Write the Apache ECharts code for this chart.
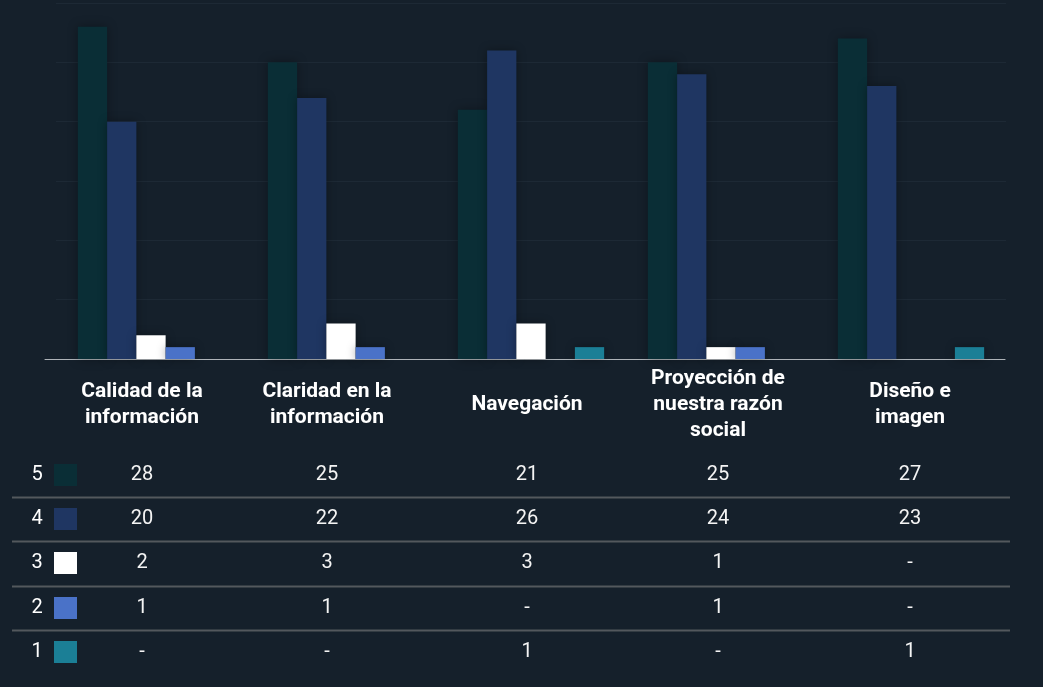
<!DOCTYPE html>
<html>
<head>
<meta charset="utf-8">
<style>
  html, body { margin: 0; padding: 0; background: #15202b; }
  #chart { width: 1043px; height: 687px; }
</style>
<script src="https://cdn.jsdelivr.net/npm/echarts@6/dist/echarts.min.js"></script>
</head>
<body>
<div id="chart"></div>
<script>
  // categorias (con salto de linea como en el original)
  var categories = [
    'Calidad de la\ninformación',
    'Claridad en la\ninformación',
    'Navegación',
    'Proyección de\nnuestra razón\nsocial',
    'Diseño e\nimagen'
  ];
  var seriesNames = ['5', '4', '3', '2', '1'];
  var s5 = [28, 25, 21, 25, 27];
  var s4 = [20, 22, 26, 24, 23];
  var s3 = [2, 3, 3, 1, null];
  var s2 = [1, 1, null, 1, null];
  var s1 = [null, null, 1, null, 1];
  var colors = ['#0a2e36', '#1f3662', '#ffffff', '#4a72c8', '#1b7f96'];

  var allData = [s5, s4, s3, s2, s1];
  // pequeño ajuste horizontal de las columnas de la tabla
  var colShift = [1, -6, 2, 1, 1];

  var myChart = echarts.init(document.getElementById('chart'));

  var series = allData.map(function (d, i) {
    return {
      name: seriesNames[i],
      type: 'bar',
      xAxisIndex: 0,
      yAxisIndex: 0,
      data: d,
      barGap: '0%',
      barCategoryGap: '23%',
      itemStyle: {
        color: colors[i],
        shadowBlur: 10,
        shadowColor: 'rgba(0,0,0,0.35)'
      },
      silent: true
    };
  });

  var options = {
    backgroundColor: '#15202b',
    animation: false,
    textStyle: { fontFamily: 'Roboto' },
    grid: [
      { left: 56, right: 37, top: 3, bottom: 328 },
      { left: 45, right: 38, top: 358, height: 1 }
    ],
    xAxis: [{
      type: 'category',
      gridIndex: 0,
      data: categories,
      axisLine: { show: false },
      axisTick: { show: false },
      axisLabel: { show: false }
    }, {
      type: 'category',
      gridIndex: 1,
      data: categories,
      axisLine: { lineStyle: { color: '#aeb3b8', width: 1 } },
      axisTick: { show: false },
      axisLabel: {
        interval: 0,
        color: '#ffffff',
        fontSize: 21,
        fontWeight: 'bold',
        fontFamily: 'Roboto',
        lineHeight: 26,
        margin: 46,
        verticalAlign: 'middle',
        align: 'center',
        formatter: function (value, index) {
          // desplazar cada etiqueta igual que su columna de la tabla
          var s = colShift[index];
          var pad = s < 0 ? [0, -2 * s, 0, 0] : [0, 0, 0, 2 * s];
          return value.split('\n').map(function (t) {
            return '{l' + index + '|' + t + '}';
          }).join('\n');
        },
        rich: (function () {
          var r = {};
          for (var i = 0; i < colShift.length; i++) {
            var s = colShift[i];
            r['l' + i] = {
              color: '#ffffff', fontSize: 21, fontWeight: 'bold', fontFamily: 'Roboto',
              lineHeight: 26,
              padding: s < 0 ? [0, -2 * s, 0, 0] : [0, 0, 0, 2 * s]
            };
          }
          return r;
        })()
      }
    }],
    yAxis: [{
      type: 'value',
      gridIndex: 0,
      min: 0,
      max: 30,
      interval: 5,
      axisLabel: { show: false },
      axisLine: { show: false },
      axisTick: { show: false },
      splitLine: { lineStyle: { color: '#1d2935', width: 1 } }
    }, {
      type: 'value',
      gridIndex: 1,
      show: false
    }],
    series: series
  };
  myChart.setOption(options);

  // tabla de datos debajo del grafico
  var rowY = [475, 519, 563, 608, 652];
  var graphics = [];
  for (var r = 0; r < allData.length; r++) {
    graphics.push({
      type: 'text', x: 37, y: rowY[r], silent: true,
      style: { text: seriesNames[r], fill: '#ffffff', font: '20px Roboto', align: 'center', verticalAlign: 'middle' }
    });
    graphics.push({
      type: 'rect', silent: true,
      shape: { x: 54, y: rowY[r] - 11, width: 23, height: 22 },
      style: { fill: colors[r] }
    });
    for (var c = 0; c < categories.length; c++) {
      var px = myChart.convertToPixel({ xAxisIndex: 1 }, categories[c]) + colShift[c];
      var v = allData[r][c];
      graphics.push({
        type: 'text', x: px, y: rowY[r], silent: true,
        style: { text: v == null ? '-' : String(v), fill: '#f4f4f4', font: '20px Roboto', align: 'center', verticalAlign: 'middle' }
      });
    }
    if (r < allData.length - 1) {
      var ly = Math.round((rowY[r] + rowY[r + 1]) / 2) + 0.5;
      graphics.push({
        type: 'line', silent: true,
        shape: { x1: 12, y1: ly, x2: 1010, y2: ly },
        style: { stroke: '#53585d', lineWidth: 2 }
      });
    }
  }
  myChart.setOption({ graphic: graphics });

  window.onresize = function () {
    myChart.resize();
  };
</script>
</body>
</html>
